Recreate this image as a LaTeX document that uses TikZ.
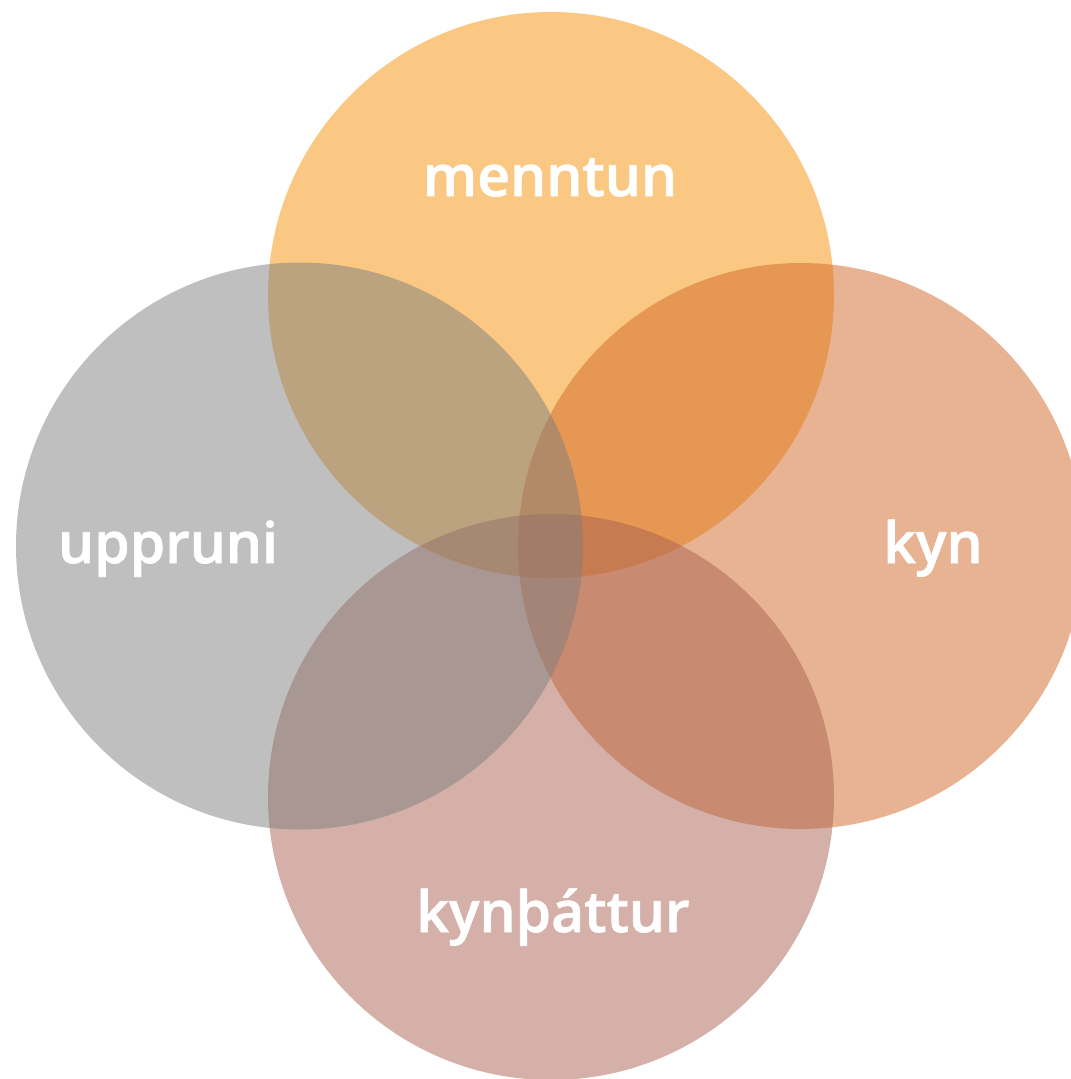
\documentclass[tikz,border=0pt]{standalone}
\usepackage{fontspec}
\newfontfamily\labelfont{Open Sans Semibold}[FakeBold=1.2]
\definecolor{menntcol}{HTML}{F59105}
\definecolor{kyncol}{HTML}{D16725}
\definecolor{kynthcol}{HTML}{A96151}
\definecolor{uppcol}{HTML}{7F7F7F}
\begin{document}
\begin{tikzpicture}[every node/.style={font=\labelfont\fontsize{16.2}{20}\selectfont, text=white}]
        \useasboundingbox (0,0) rectangle (10.71,-10.79);
        \clip (0,0) rectangle (10.71,-10.79);
        \fill[menntcol, fill opacity=0.5] (5.51,-2.95) circle (2.83);
        \fill[kyncol, fill opacity=0.5] (8.01,-5.46) circle (2.83);
        \fill[kynthcol, fill opacity=0.5] (5.51,-7.97) circle (2.83);
        \fill[uppcol, fill opacity=0.5] (2.995,-5.46) circle (2.835);

        \node[anchor=base] (menntun) at (5.50,-1.96) {menntun};
        \node[anchor=base] (kyn) at (9.33,-5.63) {kyn};
        \node[anchor=base] (kynthattur) at (5.53,-9.32) {kynþáttur};
        \node[anchor=base] (uppruni) at (1.68,-5.63) {uppruni};
    \end{tikzpicture}
\end{document}
